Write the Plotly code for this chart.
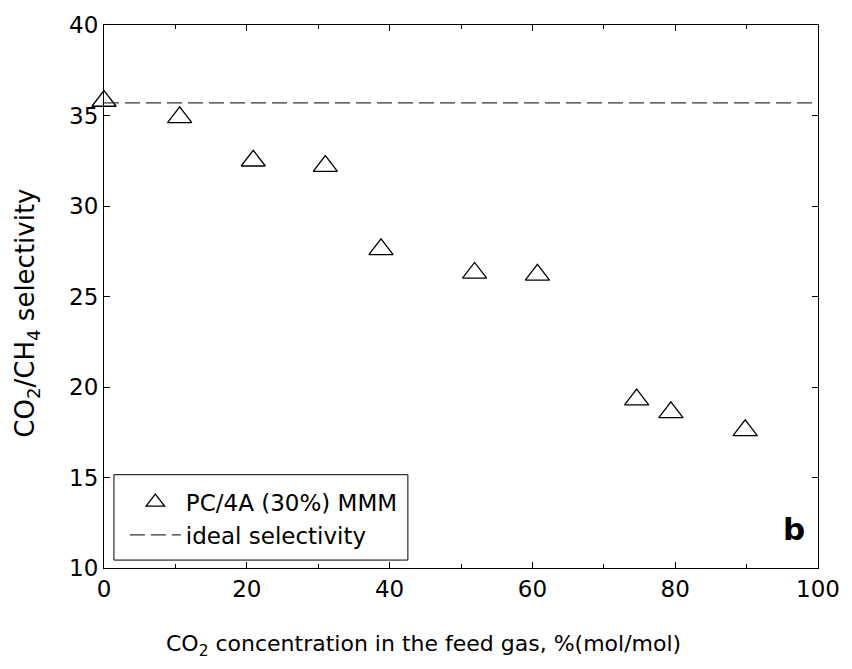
import plotly.graph_objects as go

co2_conc = [0, 10.6, 20.9, 31.0, 38.8, 51.9, 60.7, 74.6, 79.4, 89.8]
selectivity = [35.8, 34.9, 32.5, 32.2, 27.6, 26.3, 26.2, 19.3, 18.6, 17.6]
ideal_x = [0, 100]
ideal_sel = [35.7, 35.7]

font_family = "DejaVu Sans, Verdana, sans-serif"

fig = go.Figure()
fig.add_trace(go.Scatter(
    x=co2_conc, y=selectivity, mode="markers", name="PC/4A (30%) MMM",
    marker=dict(symbol="triangle-up-open", size=21, color="black", line=dict(width=1.3, color="black")),
    cliponaxis=False,
))
fig.add_trace(go.Scatter(
    x=ideal_x, y=ideal_sel, mode="lines", name="ideal selectivity",
    line=dict(color="#333333", width=1.3, dash="15px,6px"),
))

fig.add_annotation(text="<b>b</b>", x=0.985, y=0.035, xref="paper", yref="paper",
                   xanchor="right", yanchor="bottom", showarrow=False,
                   font=dict(size=31, color="black", family=font_family))

# axis titles as annotations (offset like the reference)
fig.add_annotation(text="CO<sub>2</sub> concentration in the feed gas, %(mol/mol)",
                   x=0.448, y=-0.143, xref="paper", yref="paper",
                   xanchor="center", yanchor="middle", showarrow=False,
                   font=dict(size=22, color="black", family=font_family))
fig.add_annotation(text="CO<sub>2</sub>/CH<sub>4</sub> selectivity",
                   x=-0.108, y=0.47, xref="paper", yref="paper", textangle=-90,
                   xanchor="center", yanchor="middle", showarrow=False,
                   font=dict(size=26, color="black", family=font_family))

# legend frame
fig.add_shape(type="rect", xref="paper", yref="paper",
              x0=0.0139, x1=0.4256, y0=0.0146, y1=0.1718,
              line=dict(color="black", width=1), fillcolor="white", layer="below")

axis_common = dict(showline=True, linecolor="black", linewidth=1, mirror="ticks",
                   ticks="inside", tickcolor="black", ticklen=6, showgrid=False,
                   zeroline=False, tickfont=dict(size=23, color="black", family=font_family))

fig.update_xaxes(range=[0, 100], dtick=20, tick0=0,
                 minor=dict(dtick=10, ticks="inside", ticklen=4, tickcolor="black"),
                 **axis_common)
fig.update_yaxes(range=[10, 40], dtick=5, tick0=10, **axis_common)

fig.update_layout(
    width=852, height=669,
    margin=dict(l=104, r=29, t=21, b=101),
    plot_bgcolor="white", paper_bgcolor="white",
    font=dict(family=font_family, color="black"),
    legend=dict(x=0.0292, y=0.161, xanchor="left", yanchor="top",
                borderwidth=0, bgcolor="rgba(0,0,0,0)",
                font=dict(size=23, color="black", family=font_family),
                itemwidth=51, tracegroupgap=0),
    showlegend=True,
)

fig.write_html("out.html")
